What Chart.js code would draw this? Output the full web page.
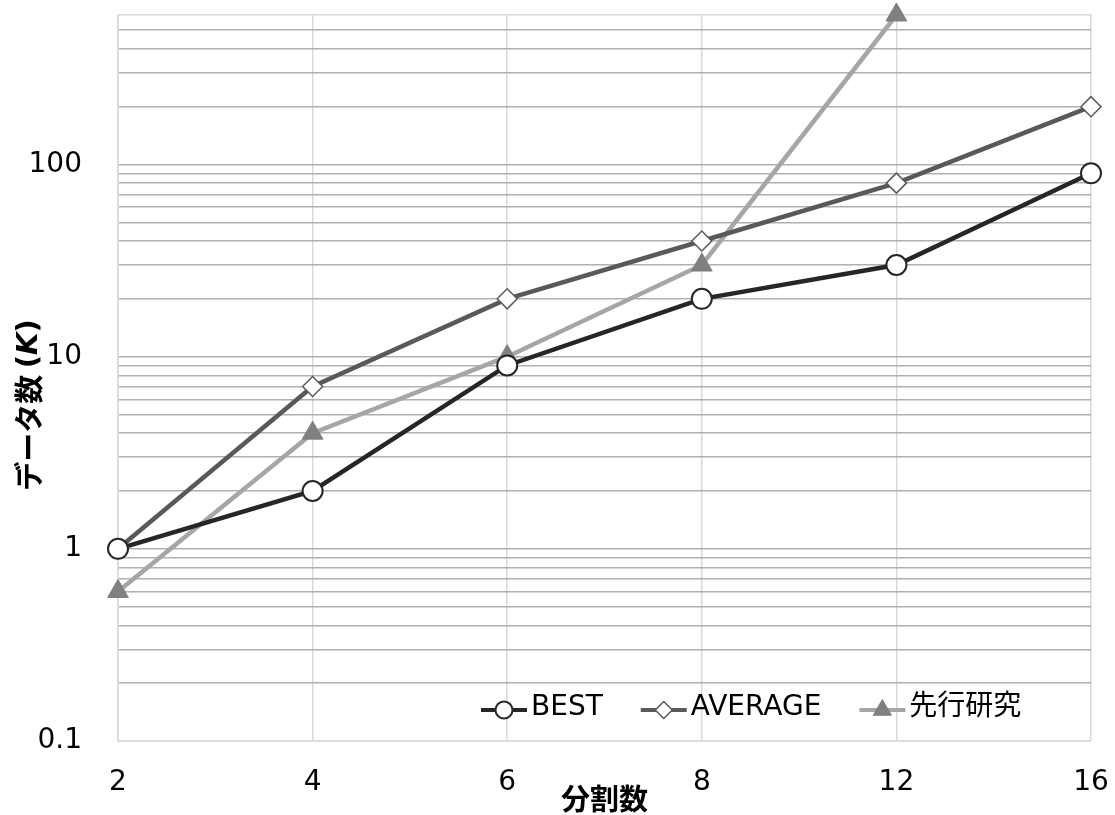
<!DOCTYPE html>
<html>
<head>
<meta charset="utf-8">
<script src="https://cdn.jsdelivr.net/npm/chart.js@4"></script>
<style>
  html, body { margin: 0; padding: 0; background: #ffffff; }
  #wrap { width: 1115px; height: 815px; }
</style>
</head>
<body>
<div id="wrap"><canvas id="chart" width="1115" height="815"></canvas></div>
<script>
// Division counts on the x axis
const categories = ['2', '4', '6', '8', '12', '16'];

// Data counts (K) per division count
const bestValues    = [1, 2, 9, 20, 30, 90];
const averageValues = [1, 7, 20, 40, 80, 200];
const priorValues   = [0.6, 4, 10, 30, 600, null];

// Labelled y ticks and axis range
const yLabelValues = [0.1, 1, 10, 100];
const yMin = 0.1;
const yMax = 600;

const seriesNames = ['BEST', 'AVERAGE', '先行研究'];

const FONT = '"DejaVu Sans", "Noto Sans CJK JP", sans-serif';
const CJK = '"Noto Sans CJK JP", "DejaVu Sans", sans-serif';

// Grid positions: every 1..9 × 10^n inside the range
function logGridValues(min, max) {
  const out = [];
  for (let e = -1; e <= 3; e++) {
    for (let m = 1; m <= 9; m++) {
      const v = +(m * Math.pow(10, e)).toPrecision(3);
      if (v >= min - 1e-9 && v <= max + 1e-9) out.push(v);
    }
  }
  return out;
}

const datasets = [
  {
    label: seriesNames[0],
    data: bestValues,
    borderColor: '#262626',
    borderWidth: 4.5,
    pointStyle: 'circle',
    pointRadius: 10,
    pointHoverRadius: 10,
    pointBackgroundColor: '#ffffff',
    pointBorderColor: '#262626',
    pointBorderWidth: 2,
    clip: false,
    order: 1
  },
  {
    label: seriesNames[1],
    data: averageValues,
    borderColor: '#595959',
    borderWidth: 4.5,
    pointStyle: 'rectRot',
    pointRadius: 10,
    pointHoverRadius: 10,
    pointBackgroundColor: '#ffffff',
    pointBorderColor: '#595959',
    pointBorderWidth: 1.5,
    clip: false,
    order: 2
  },
  {
    label: seriesNames[2],
    data: priorValues,
    borderColor: '#a6a6a6',
    borderWidth: 4.5,
    pointStyle: 'triangle',
    pointRadius: 12,
    pointHoverRadius: 12,
    pointBackgroundColor: '#808080',
    pointBorderColor: '#808080',
    pointBorderWidth: 1,
    spanGaps: false,
    clip: false,
    order: 3
  }
];

// Axis titles and the in-plot legend
const decorations = {
  id: 'decorations',
  afterDraw(chart) {
    const ctx = chart.ctx;
    const area = chart.chartArea;
    ctx.save();
    ctx.fillStyle = '#000000';

    // x axis title
    ctx.font = 'bold 29px ' + CJK;
    ctx.textAlign = 'center';
    ctx.textBaseline = 'middle';
    ctx.fillText('分割数', (area.left + area.right) / 2, 799);

    // y axis title with italic K
    const parts = [
      { t: 'データ数 ', f: 'bold 29px ' + CJK },
      { t: '(', f: 'bold 29px ' + FONT },
      { t: 'K', f: 'italic bold 29px ' + FONT },
      { t: ')', f: 'bold 29px ' + FONT }
    ];
    let total = 0;
    parts.forEach(p => { ctx.font = p.f; p.w = ctx.measureText(p.t).width; total += p.w; });
    ctx.save();
    ctx.translate(29, 405);
    ctx.rotate(-Math.PI / 2);
    ctx.textAlign = 'left';
    let px = -total / 2;
    parts.forEach(p => { ctx.font = p.f; ctx.fillText(p.t, px, 0); px += p.w; });
    ctx.restore();

    // legend
    const ly = 710;
    let lx = 481;
    const sampleW = 46;
    chart.data.datasets.forEach((ds) => {
      ctx.strokeStyle = ds.borderColor;
      ctx.lineWidth = 4;
      ctx.beginPath();
      ctx.moveTo(lx, ly);
      ctx.lineTo(lx + sampleW, ly);
      ctx.stroke();
      ctx.fillStyle = ds.pointBackgroundColor;
      ctx.strokeStyle = ds.pointBorderColor;
      ctx.lineWidth = ds.pointBorderWidth;
      Chart.helpers.drawPoint(ctx, {
        pointStyle: ds.pointStyle,
        radius: ds.pointRadius - 1.5,
        rotation: 0,
        borderWidth: ds.pointBorderWidth
      }, lx + sampleW / 2, ly);
      ctx.fillStyle = '#000000';
      ctx.font = '28px ' + FONT;
      ctx.textAlign = 'left';
      ctx.textBaseline = 'middle';
      const tx = lx + sampleW + 4;
      ctx.fillText(ds.label, tx, ly - 2);
      lx = tx + ctx.measureText(ds.label).width + 38;
    });
    ctx.restore();
  }
};

new Chart(document.getElementById('chart'), {
  type: 'line',
  data: { labels: categories, datasets },
  options: {
    responsive: false,
    animation: false,
    events: [],
    layout: { padding: { top: 15, right: 24, left: 0, bottom: 0 } },
    plugins: {
      legend: { display: false },
      tooltip: { enabled: false }
    },
    elements: { line: { tension: 0 } },
    scales: {
      x: {
        type: 'category',
        offset: false,
        afterFit(scale) {
          scale.height = 74;
          scale.paddingLeft = 0;
          scale.paddingRight = 0;
        },
        grid: {
          color: '#d9d9d9',
          lineWidth: 1.5,
          drawTicks: false
        },
        border: { display: true, color: '#d9d9d9', width: 1.5 },
        ticks: {
          padding: 25,
          color: '#000000',
          font: { family: FONT, size: 28 },
          maxRotation: 0,
          autoSkip: false
        }
      },
      y: {
        type: 'logarithmic',
        min: yMin,
        max: yMax,
        afterFit(scale) {
          scale.width = 118;
          scale.paddingTop = 0;
          scale.paddingBottom = 0;
        },
        afterBuildTicks(scale) {
          scale.ticks = logGridValues(yMin, yMax).map(v => ({ value: v }));
        },
        grid: {
          color: (c) => {
            const v = c.tick ? c.tick.value : 0;
            return (v === yMin || v === yMax) ? '#d9d9d9' : '#b0b0b0';
          },
          lineWidth: 1.5,
          drawTicks: false
        },
        border: { display: true, color: '#d9d9d9', width: 1.5 },
        ticks: {
          padding: 36,
          color: '#000000',
          font: { family: FONT, size: 28 },
          autoSkip: false,
          callback: (value) => yLabelValues.includes(value) ? String(value) : ''
        }
      }
    }
  },
  plugins: [decorations]
});
</script>
</body>
</html>
